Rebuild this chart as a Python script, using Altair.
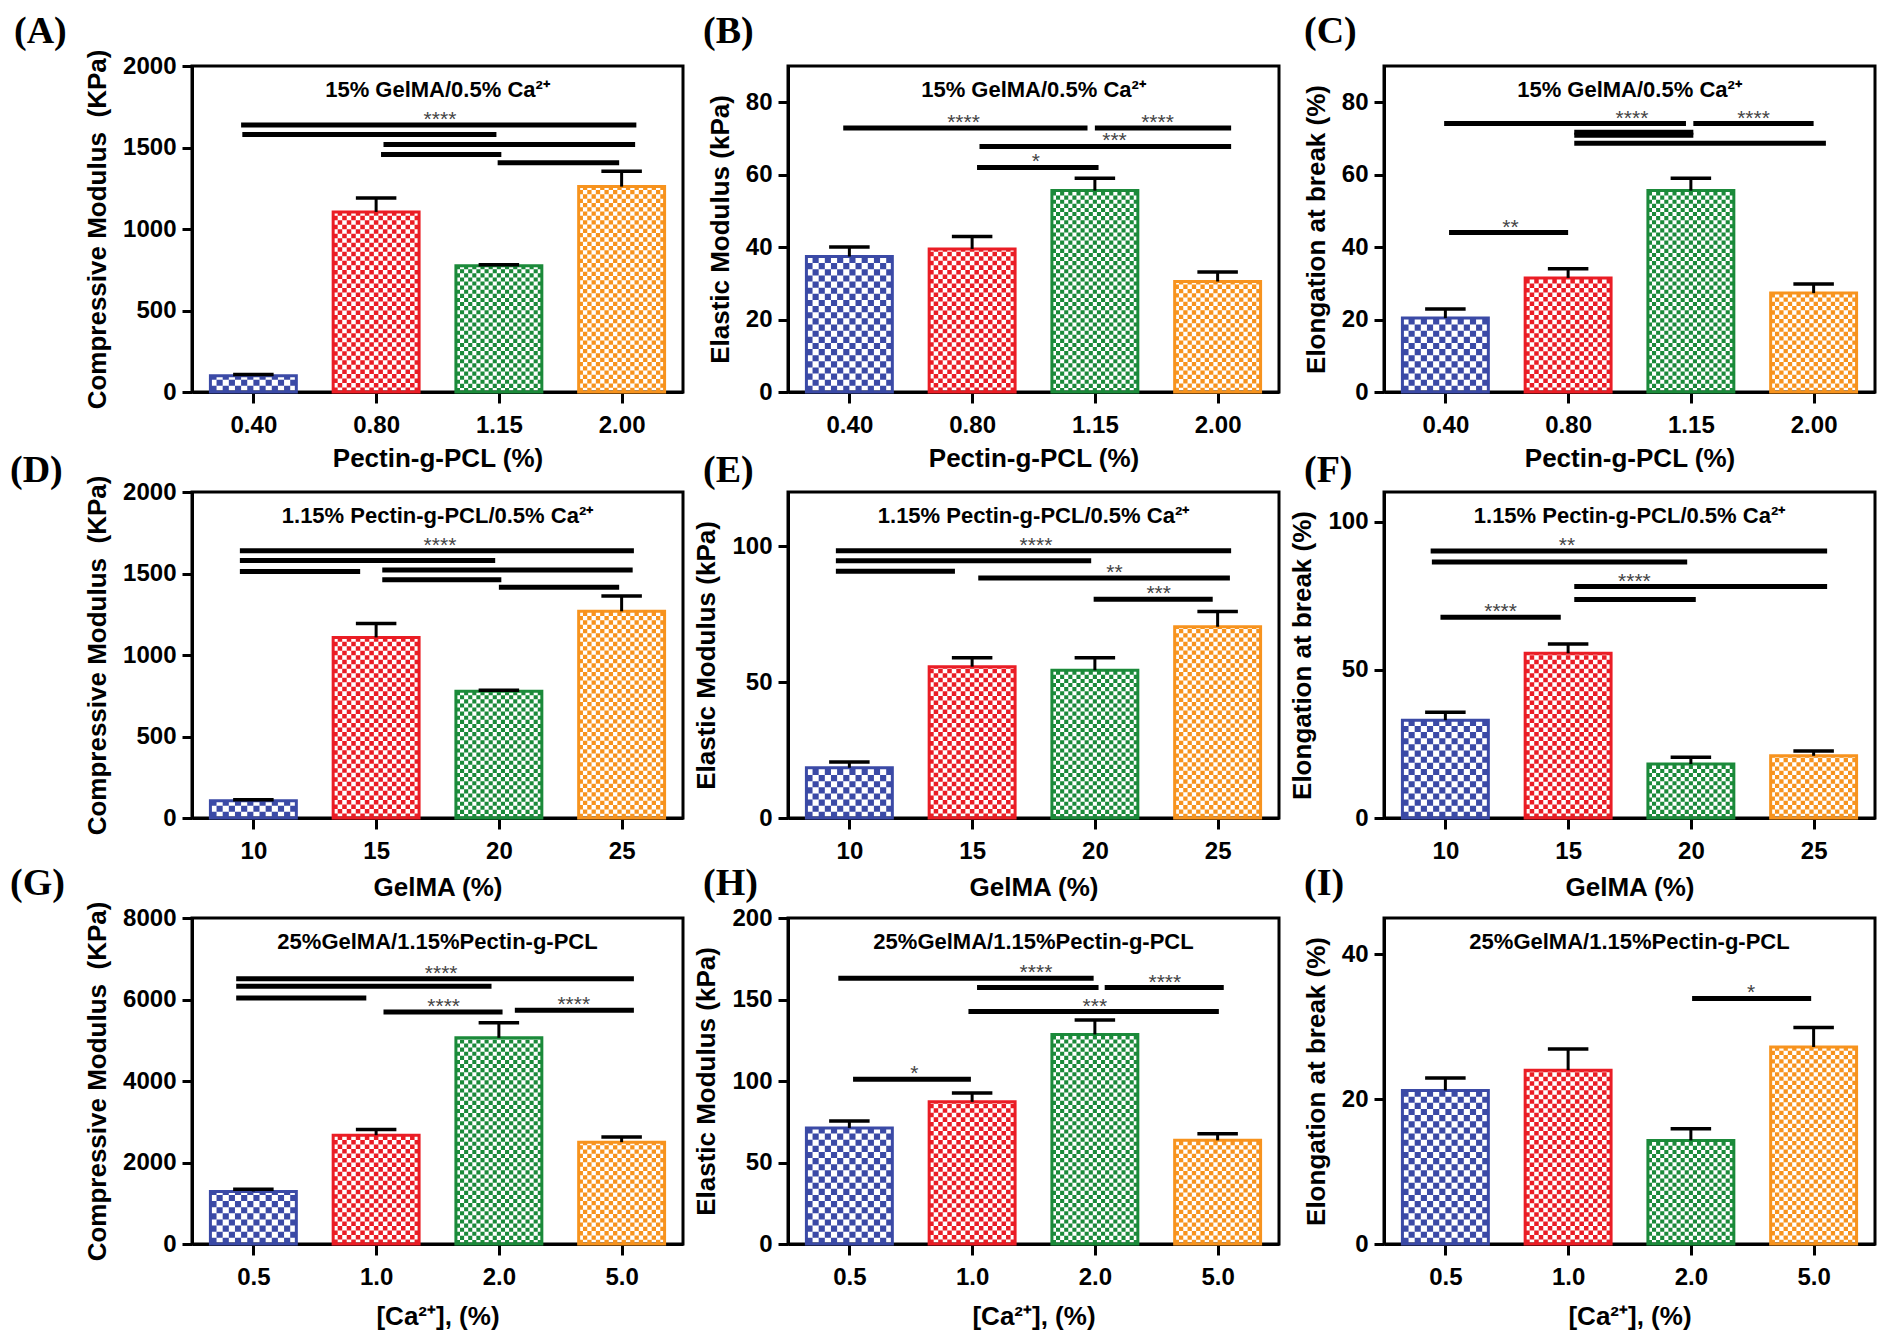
import altair as alt
import pandas as pd

# ---------------- data ----------------
pectin_labels = ["0.40", "0.80", "1.15", "2.00"]
gelma_labels = ["10", "15", "20", "25"]
ca_labels = ["0.5", "1.0", "2.0", "5.0"]

A_mean = [100, 1105, 775, 1260]
A_err = [8, 85, 6, 95]
B_mean = [37.4, 39.5, 55.6, 30.5]
B_err = [2.6, 3.4, 3.4, 2.6]
C_mean = [20.4, 31.5, 55.6, 27.3]
C_err = [2.5, 2.5, 3.4, 2.5]
D_mean = [106, 1108, 777, 1268]
D_err = [6, 86, 6, 94]
E_mean = [18.5, 55.7, 54.4, 70.4]
E_err = [2.1, 3.3, 4.6, 5.6]
F_mean = [33.0, 55.6, 18.2, 21.0]
F_err = [2.7, 3.1, 2.3, 1.6]
G_mean = [1290, 2670, 5060, 2500]
G_err = [55, 140, 370, 125]
H_mean = [71.2, 87.2, 128.6, 63.6]
H_err = [4.3, 5.5, 8.8, 4.1]
I_mean = [21.2, 24.0, 14.3, 27.2]
I_err = [1.7, 2.9, 1.6, 2.7]

# significance bars: (from group position, to group position, height)
A_lines = [(-0.10, 3.12, 1638), (-0.09, 1.98, 1580), (1.06, 3.11, 1519), (1.04, 2.02, 1457), (1.99, 2.98, 1406)]
A_stars = [(1.52, 1638, "****")]
B_lines = [(-0.05, 1.94, 72.9), (2.0, 3.11, 72.9), (1.06, 3.11, 67.8), (1.04, 2.03, 62.0)]
B_stars = [(0.93, 72.9, "****"), (2.51, 72.9, "****"), (2.16, 67.8, "***"), (1.52, 62.0, "*")]
C_lines = [(-0.01, 1.96, 74.1), (2.02, 3.0, 74.1), (1.05, 2.02, 71.7), (1.05, 2.02, 70.9),
           (1.05, 3.10, 68.7), (0.03, 1.0, 44.0)]
C_stars = [(1.52, 74.1, "****"), (2.51, 74.1, "****"), (0.53, 44.0, "**")]
D_lines = [(-0.11, 3.10, 1640), (-0.11, 1.97, 1579), (-0.11, 0.87, 1513), (1.05, 3.09, 1521),
           (1.05, 2.02, 1462), (2.0, 2.98, 1415)]
D_stars = [(1.52, 1640, "****")]
E_lines = [(-0.11, 3.11, 98.4), (-0.11, 1.97, 94.7), (-0.11, 0.86, 90.8), (1.05, 3.10, 88.3), (1.99, 2.96, 80.5)]
E_stars = [(1.52, 98.4, "****"), (2.16, 88.3, "**"), (2.52, 80.5, "***")]
F_lines = [(-0.12, 3.11, 90.1), (-0.11, 1.97, 86.4), (1.05, 3.11, 78.1), (1.05, 2.04, 73.7), (-0.04, 0.94, 67.7)]
F_stars = [(0.99, 90.1, "**"), (1.54, 78.1, "****"), (0.45, 67.7, "****")]
G_lines = [(-0.14, 3.10, 6510), (-0.14, 1.94, 6323), (-0.14, 0.92, 6038), (1.06, 2.03, 5696), (2.13, 3.10, 5737)]
G_stars = [(1.53, 6510, "****"), (1.55, 5696, "****"), (2.61, 5737, "****")]
H_lines = [(-0.09, 1.99, 163.1), (1.04, 2.03, 157.3), (2.08, 3.05, 157.3), (0.97, 3.01, 142.6), (0.03, 0.99, 101.0)]
H_stars = [(1.52, 163.1, "****"), (2.57, 157.3, "****"), (2.0, 142.6, "***"), (0.53, 101.0, "*")]
I_lines = [(2.01, 2.98, 33.9)]
I_stars = [(2.49, 33.9, "*")]

# ---------------- styling ----------------
W, H = 491, 326
PX_PER_UNIT = W / 4.0
BAR_HALF = 0.35
COLORS = ["#3b4aa6", "#ea1d25", "#1b8a3a", "#f7931e"]
NCOLS = [14, 19, 21, 20]          # checker columns per bar
SANS = "Liberation Sans, Arial, sans-serif"
SERIF = "Liberation Serif, Times New Roman, serif"

sub_pectin = "15% GelMA/0.5% Ca²⁺"
sub_gelma = "1.15% Pectin-g-PCL/0.5% Ca²⁺"
sub_ca = "25%GelMA/1.15%Pectin-g-PCL"
yt_comp = "Compressive Modulus\u00a0 (KPa)"
yt_el = "Elastic Modulus (kPa)"
yt_elong = "Elongation at break (%)"

panels = [
    dict(L="(A)", labels=pectin_labels, mean=A_mean, err=A_err, lines=A_lines, stars=A_stars, ymax=2000,
         yticks=[0, 500, 1000, 1500, 2000], yt=yt_comp, xt="Pectin-g-PCL (%)", sub=sub_pectin,
         ldx=-178, ldy=-34, xtp=8),
    dict(L="(B)", labels=pectin_labels, mean=B_mean, err=B_err, lines=B_lines, stars=B_stars, ymax=90,
         yticks=[0, 20, 40, 60, 80], yt=yt_el, xt="Pectin-g-PCL (%)", sub=sub_pectin,
         ldx=-85, ldy=-34, xtp=8),
    dict(L="(C)", labels=pectin_labels, mean=C_mean, err=C_err, lines=C_lines, stars=C_stars, ymax=90,
         yticks=[0, 20, 40, 60, 80], yt=yt_elong, xt="Pectin-g-PCL (%)", sub=sub_pectin,
         ldx=-80, ldy=-34, xtp=8),
    dict(L="(D)", labels=gelma_labels, mean=D_mean, err=D_err, lines=D_lines, stars=D_stars, ymax=2000,
         yticks=[0, 500, 1000, 1500, 2000], yt=yt_comp, xt="GelMA (%)", sub=sub_gelma,
         ldx=-182, ldy=-21, xtp=11),
    dict(L="(E)", labels=gelma_labels, mean=E_mean, err=E_err, lines=E_lines, stars=E_stars, ymax=120,
         yticks=[0, 50, 100], yt=yt_el, xt="GelMA (%)", sub=sub_gelma,
         ldx=-85, ldy=-21, xtp=11),
    dict(L="(F)", labels=gelma_labels, mean=F_mean, err=F_err, lines=F_lines, stars=F_stars, ymax=110,
         yticks=[0, 50, 100], yt=yt_elong, xt="GelMA (%)", sub=sub_gelma,
         ldx=-80, ldy=-21, xtp=11),
    dict(L="(G)", labels=ca_labels, mean=G_mean, err=G_err, lines=G_lines, stars=G_stars, ymax=8000,
         yticks=[0, 2000, 4000, 6000, 8000], yt=yt_comp, xt="[Ca²⁺], (%)", sub=sub_ca,
         ldx=-182, ldy=-34, xtp=14),
    dict(L="(H)", labels=ca_labels, mean=H_mean, err=H_err, lines=H_lines, stars=H_stars, ymax=200,
         yticks=[0, 50, 100, 150, 200], yt=yt_el, xt="[Ca²⁺], (%)", sub=sub_ca,
         ldx=-85, ldy=-34, xtp=14),
    dict(L="(I)", labels=ca_labels, mean=I_mean, err=I_err, lines=I_lines, stars=I_stars, ymax=45,
         yticks=[0, 20, 40], yt=yt_elong, xt="[Ca²⁺], (%)", sub=sub_ca,
         ldx=-80, ldy=-34, xtp=14),
]


def make_panel(p):
    xs = alt.Scale(domain=[-0.5, 3.5], nice=False, zero=False)
    ys = alt.Scale(domain=[0, p["ymax"]], nice=False, zero=True)
    label_expr = "[" + ",".join("'%s'" % l for l in p["labels"]) + "][datum.value]"
    xaxis = alt.Axis(values=[0, 1, 2, 3], labelExpr=label_expr, title=p["xt"], grid=False,
                     tickSize=11, tickWidth=3, domainWidth=3, labelFontSize=24, titleFontSize=26,
                     labelPadding=10, titlePadding=p["xtp"], labelFlush=False, labelOverlap=False)
    yaxis = alt.Axis(values=p["yticks"], format="d", title=p["yt"], grid=False,
                     tickSize=10, tickWidth=3, domainWidth=3, labelFontSize=24, titleFontSize=26,
                     labelPadding=6, titlePadding=12, labelFlush=False, labelOverlap=False)

    def X(f):
        return alt.X(f, type="quantitative", scale=xs, axis=xaxis)

    def Y(f):
        return alt.Y(f, type="quantitative", scale=ys, axis=yaxis)

    # checkerboard columns (dashed vertical rules)
    rows, keys, dashes = [], [], []
    for i in range(4):
        n = NCOLS[i]
        cw = 2 * BAR_HALF / n
        cell = cw * PX_PER_UNIT
        keys += ["%d-0" % i, "%d-1" % i]
        dashes += [[cell, cell], [0, cell, cell, 0]]
        for k in range(n):
            rows.append(dict(x=i - BAR_HALF + (k + 0.5) * cw, y0=0, y1=p["mean"][i],
                             key="%d-%d" % (i, k % 2), col=COLORS[i], sw=cell))
    checker = alt.Chart(pd.DataFrame(rows)).mark_rule(strokeCap="butt").encode(
        x=X("x"), y=Y("y0"), y2="y1",
        color=alt.Color("col:N", scale=None),
        strokeWidth=alt.StrokeWidth("sw:Q", scale=None),
        strokeDash=alt.StrokeDash("key:N", scale=alt.Scale(domain=keys, range=dashes), legend=None),
    )

    bars_df = pd.DataFrame(dict(
        xc=[0, 1, 2, 3],
        x0=[i - BAR_HALF for i in range(4)],
        x1=[i + BAR_HALF for i in range(4)],
        cl=[i - 0.165 for i in range(4)],
        cr=[i + 0.165 for i in range(4)],
        zero=[0] * 4,
        mean=p["mean"],
        top=[m + e for m, e in zip(p["mean"], p["err"])],
        col=COLORS,
    ))
    outline = alt.Chart(bars_df).mark_rect(filled=False, strokeWidth=3).encode(
        x=X("x0"), x2="x1", y=Y("zero"), y2="mean", color=alt.Color("col:N", scale=None))
    stem = alt.Chart(bars_df).mark_rule(strokeWidth=3, color="black").encode(
        x=X("xc"), y=Y("mean"), y2="top")
    cap = alt.Chart(bars_df).mark_rule(strokeWidth=3.5, color="black", strokeCap="butt").encode(
        x=X("cl"), x2="cr", y=Y("top"))

    lines_df = pd.DataFrame(p["lines"], columns=["a", "b", "y"])
    sig = alt.Chart(lines_df).mark_rule(strokeWidth=5, color="black", strokeCap="butt").encode(
        x=X("a"), x2="b", y=Y("y"))
    stars_df = pd.DataFrame(p["stars"], columns=["x", "y", "t"])
    stars = alt.Chart(stars_df).mark_text(font=SANS, fontSize=21, color="#444",
                                          baseline="alphabetic", dy=1).encode(
        x=X("x"), y=Y("y"), text="t:N")

    sub = alt.Chart(pd.DataFrame({"t": [p["sub"]]})).mark_text(
        font=SANS, fontSize=22, fontWeight="bold", baseline="middle", color="black").encode(
        x=alt.value(W / 2), y=alt.value(24), text="t:N")
    letter = alt.Chart(pd.DataFrame({"t": [p["L"]]})).mark_text(
        font=SERIF, fontSize=38, fontWeight="bold", align="left", baseline="middle", color="black").encode(
        x=alt.value(p["ldx"]), y=alt.value(p["ldy"]), text="t:N")

    return alt.layer(checker, outline, stem, cap, sig, stars, sub, letter).properties(width=W, height=H)


charts = [make_panel(p) for p in panels]
chart = alt.concat(*charts, columns=3, spacing={"row": 100, "column": 105}, bounds="flush").properties(
    padding={"left": 0, "top": 3, "right": 0, "bottom": 0},
    background="white",
).configure_view(
    stroke="black", strokeWidth=3
).configure_axis(
    domainColor="black", tickColor="black", labelColor="black", titleColor="black",
    labelFont=SANS, titleFont=SANS, labelFontWeight="bold", titleFontWeight="bold",
)

chart.save("out.html", embed_options={"renderer": "svg", "actions": False})
